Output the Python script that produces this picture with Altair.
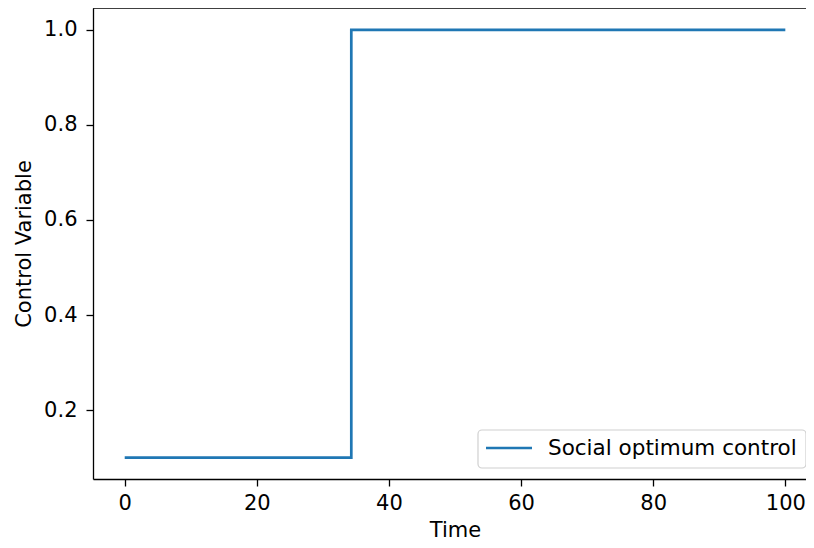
import altair as alt
import pandas as pd

# Data
times = [0, 34.3, 100]
control = [0.1, 1.0, 1.0]
series_name = "Social optimum control"
x_ticks = [0, 20, 40, 60, 80, 100]
y_ticks = [0.2, 0.4, 0.6, 0.8, 1.0]

df = pd.DataFrame({"Time": times, "Control": control, "Series": [series_name] * len(times)})
leg = pd.DataFrame({"Series": [series_name]})

FONT = "DejaVu Sans"
FS = 21
W, H = 713, 471
BLUE = "#1f77b4"

line = alt.Chart(df).mark_line(interpolate="step-after", strokeWidth=2.7, clip=True, color=BLUE).encode(
    x=alt.X("Time:Q", title="Time",
            scale=alt.Scale(domain=[-4.8, 103.13], nice=False, zero=False),
            axis=alt.Axis(values=x_ticks, format="d", labelPadding=6,
                          titleX=362, titleY=57, titleBaseline="alphabetic")),
    y=alt.Y("Control:Q", title="Control Variable",
            scale=alt.Scale(domain=[0.055, 1.046], nice=False, zero=False),
            axis=alt.Axis(values=y_ticks, format=".1f", labelPadding=9,
                          titleX=-63, titleBaseline="alphabetic")),
)

top = alt.Chart(leg).mark_rule(color="black", strokeWidth=1.3).encode(
    y=alt.value(0), x=alt.value(0), x2=alt.value(W)
)

# legend (box, line sample, label)
box = alt.Chart(leg).mark_rect(fill="white", fillOpacity=0.8, stroke="#d0d0d0", strokeWidth=1.2,
                               cornerRadius=4).encode(
    x=alt.value(385), x2=alt.value(713), y=alt.value(422), y2=alt.value(460)
)
sample = alt.Chart(leg).mark_rule(color=BLUE, strokeWidth=2.7).encode(
    x=alt.value(393), x2=alt.value(439), y=alt.value(440)
)
label = alt.Chart(leg).mark_text(align="left", baseline="middle", font=FONT, fontSize=21.5,
                                 color="black").encode(
    x=alt.value(455), y=alt.value(441), text="Series:N"
)

chart = alt.layer(line, top, box, sample, label).properties(
    width=W, height=H,
    autosize=alt.AutoSizeParams(type="none"),
    padding={"left": 85, "top": 0, "right": 0, "bottom": 61},
).configure_view(stroke=None).configure_axis(
    grid=False, domainColor="black", domainWidth=1.3, tickColor="black",
    tickSize=7, tickWidth=1.3, labelFont=FONT, labelFontSize=FS, labelColor="black",
    titleFont=FONT, titleFontSize=FS, titleFontWeight="normal",
    titleColor="black",
)

chart.save("out.html", embed_options={"renderer": "svg", "actions": False})
